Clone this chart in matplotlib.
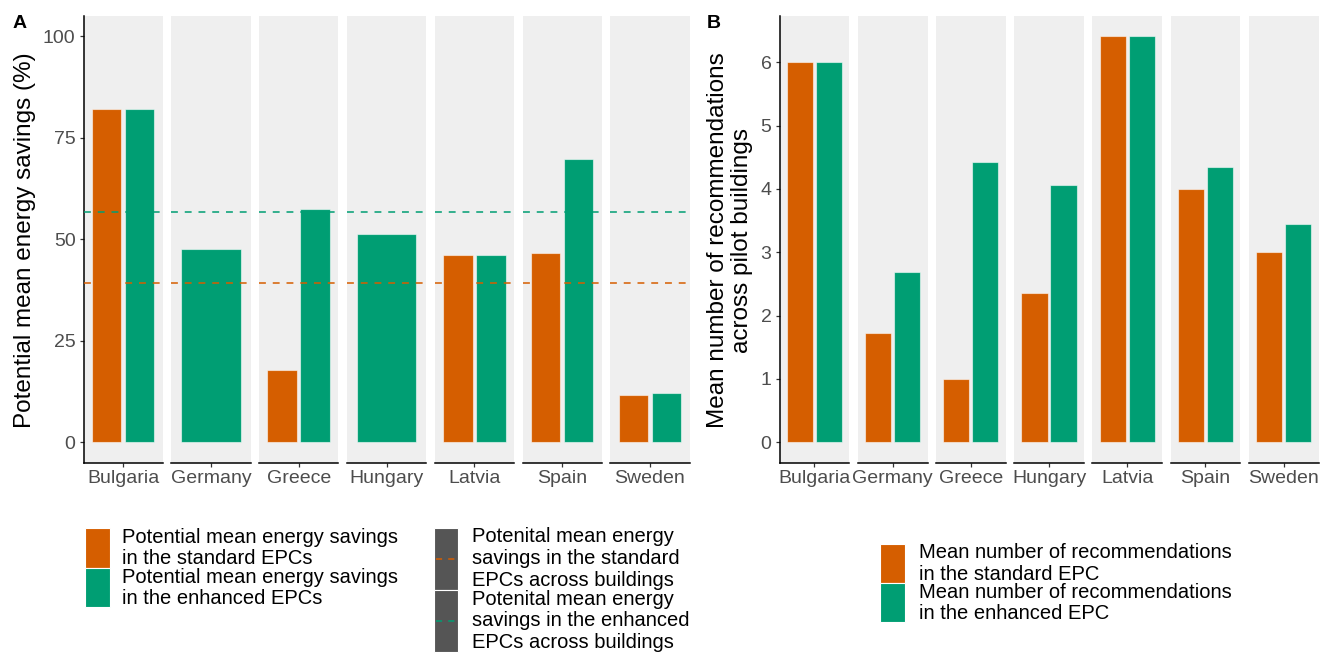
import matplotlib
matplotlib.use("Agg")
import matplotlib.pyplot as plt
from matplotlib.patches import Rectangle
from matplotlib.lines import Line2D

# ---- data -------------------------------------------------------------
countries = ["Bulgaria", "Germany", "Greece", "Hungary", "Latvia", "Spain", "Sweden"]

# Potential mean energy savings (%) per country; None = no standard EPC value
savings_standard = [82.0, None, 17.8, None, 46.2, 46.5, 11.6]
savings_enhanced = [82.0, 47.7, 57.4, 51.2, 46.2, 69.8, 12.1]

# Mean savings across all pilot buildings (dashed reference lines)
mean_savings_standard = 39.2
mean_savings_enhanced = 56.8

# Mean number of recommendations per country
recs_standard = [6.0, 1.73, 1.0, 2.36, 6.41, 4.0, 3.0]
recs_enhanced = [6.0, 2.69, 4.42, 4.06, 6.41, 4.34, 3.45]

savings_ticks = [0, 25, 50, 75, 100]
recs_ticks = [0, 1, 2, 3, 4, 5, 6]

# ---- style ------------------------------------------------------------
ORANGE = "#D55E00"
GREEN = "#009E73"
PANEL_BG = "#EFEFEF"
TICK_TXT = "#4D4D4D"
KEY_GREY = "#555555"

plt.rcParams["font.family"] = ["Liberation Sans", "DejaVu Sans"]

W, H = 1321, 653
fig = plt.figure(figsize=(W / 100, H / 100), dpi=100)


def fx(px):
    return px / W


def fy(py):
    return 1 - py / H


def make_facets(left0, width, step, top, bottom, n):
    axes = []
    for i in range(n):
        l = left0 + i * step
        ax = fig.add_axes([fx(l), fy(bottom), width / W, (bottom - top) / H])
        ax.set_facecolor(PANEL_BG)
        for s in ("top", "right"):
            ax.spines[s].set_visible(False)
        ax.spines["bottom"].set_color("black")
        ax.spines["bottom"].set_linewidth(1.1)
        if i == 0:
            ax.spines["left"].set_color("black")
            ax.spines["left"].set_linewidth(1.1)
        else:
            ax.spines["left"].set_visible(False)
        ax.tick_params(axis="both", length=3.2, width=0.9, color="#333333",
                       labelcolor=TICK_TXT, labelsize=14, pad=2.5)
        axes.append(ax)
    return axes


def draw_bars(ax, std, enh):
    edge = dict(edgecolor=(1, 1, 1, 0.55), linewidth=0.8, zorder=2)
    if std is None:
        ax.bar(0, enh, width=0.9, color=GREEN, **edge)
    else:
        ax.bar(-0.25, std, width=0.45, color=ORANGE, **edge)
        ax.bar(0.25, enh, width=0.45, color=GREEN, **edge)


# ---- panel A ----------------------------------------------------------
axesA = make_facets(83.5, 79.2, 87.8, 16, 462.5, len(countries))
for i, ax in enumerate(axesA):
    draw_bars(ax, savings_standard[i], savings_enhanced[i])
    for val, col in ((mean_savings_standard, ORANGE), (mean_savings_enhanced, GREEN)):
        ax.axhline(val, color=col, lw=1.1, ls=(0, (4.5, 4.5)), zorder=3)
    ax.set_xlim(-0.6, 0.6)
    ax.set_ylim(-5, 105)
    ax.set_xticks([0])
    ax.set_xticklabels([countries[i]])
    if i == 0:
        ax.set_yticks(savings_ticks)
        ax.set_yticklabels([str(t) for t in savings_ticks])
    else:
        ax.set_yticks([])

fig.text(fx(25), fy(240), "Potential mean energy savings (%)", rotation=90,
         ha="center", va="center", fontsize=17.5, color="black")
fig.text(fx(20), fy(23), "A", ha="center", va="center", fontsize=14,
         fontweight="bold", color="black")

# ---- panel B ----------------------------------------------------------
recs_max = max(max(recs_standard), max(recs_enhanced))
axesB = make_facets(779.5, 69.8, 78.2, 16, 462.5, len(countries))
for i, ax in enumerate(axesB):
    draw_bars(ax, recs_standard[i], recs_enhanced[i])
    ax.set_xlim(-0.6, 0.6)
    ax.set_ylim(-0.05 * recs_max, 1.05 * recs_max)
    ax.set_xticks([0])
    ax.set_xticklabels([countries[i]])
    if i == 0:
        ax.set_yticks(recs_ticks)
        ax.set_yticklabels([str(t) for t in recs_ticks])
    else:
        ax.set_yticks([])

fig.text(fx(730), fy(240), "Mean number of recommendations\nacross pilot buildings",
         rotation=90, ha="center", va="center", multialignment="center",
         fontsize=17.5, linespacing=1.1, color="black")
fig.text(fx(714), fy(23), "B", ha="center", va="center", fontsize=14,
         fontweight="bold", color="black")


# ---- legends ----------------------------------------------------------
def key_box(x0, y0, x1, y1, color):
    fig.add_artist(Rectangle((fx(x0), fy(y1)), (x1 - x0) / W, (y1 - y0) / H,
                             transform=fig.transFigure, facecolor=color,
                             edgecolor="white", linewidth=0.8))


def key_dash(x0, x1, y, color):
    fig.add_artist(Line2D([fx(x0), fx(x1)], [fy(y), fy(y)], transform=fig.transFigure,
                          color=color, lw=1.1, ls=(0, (4, 4))))


def key_text(x, y, s):
    fig.text(fx(x), fy(y), s, ha="left", va="center", fontsize=14.5,
             linespacing=1.17, color="black")


# panel A: fill legend
key_box(85, 528, 110, 567.5, ORANGE)
key_box(85, 567.5, 110, 607, GREEN)
key_text(122, 548, "Potential mean energy savings\nin the standard EPCs")
key_text(122, 588, "Potential mean energy savings\nin the enhanced EPCs")

# panel A: reference line legend
key_box(434, 528, 458, 590, KEY_GREY)
key_box(434, 590, 458, 652, KEY_GREY)
key_dash(436, 456, 559, ORANGE)
key_dash(436, 456, 621, GREEN)
key_text(472, 558.5, "Potenital mean energy\nsavings in the standard\nEPCs across buildings")
key_text(472, 621, "Potenital mean energy\nsavings in the enhanced\nEPCs across buildings")

# panel B: fill legend
key_box(880, 544, 905, 583, ORANGE)
key_box(880, 583, 905, 622, GREEN)
key_text(919, 563.5, "Mean number of recommendations\nin the standard EPC")
key_text(919, 603, "Mean number of recommendations\nin the enhanced EPC")

fig.savefig("out.png", dpi=100, facecolor="white")
